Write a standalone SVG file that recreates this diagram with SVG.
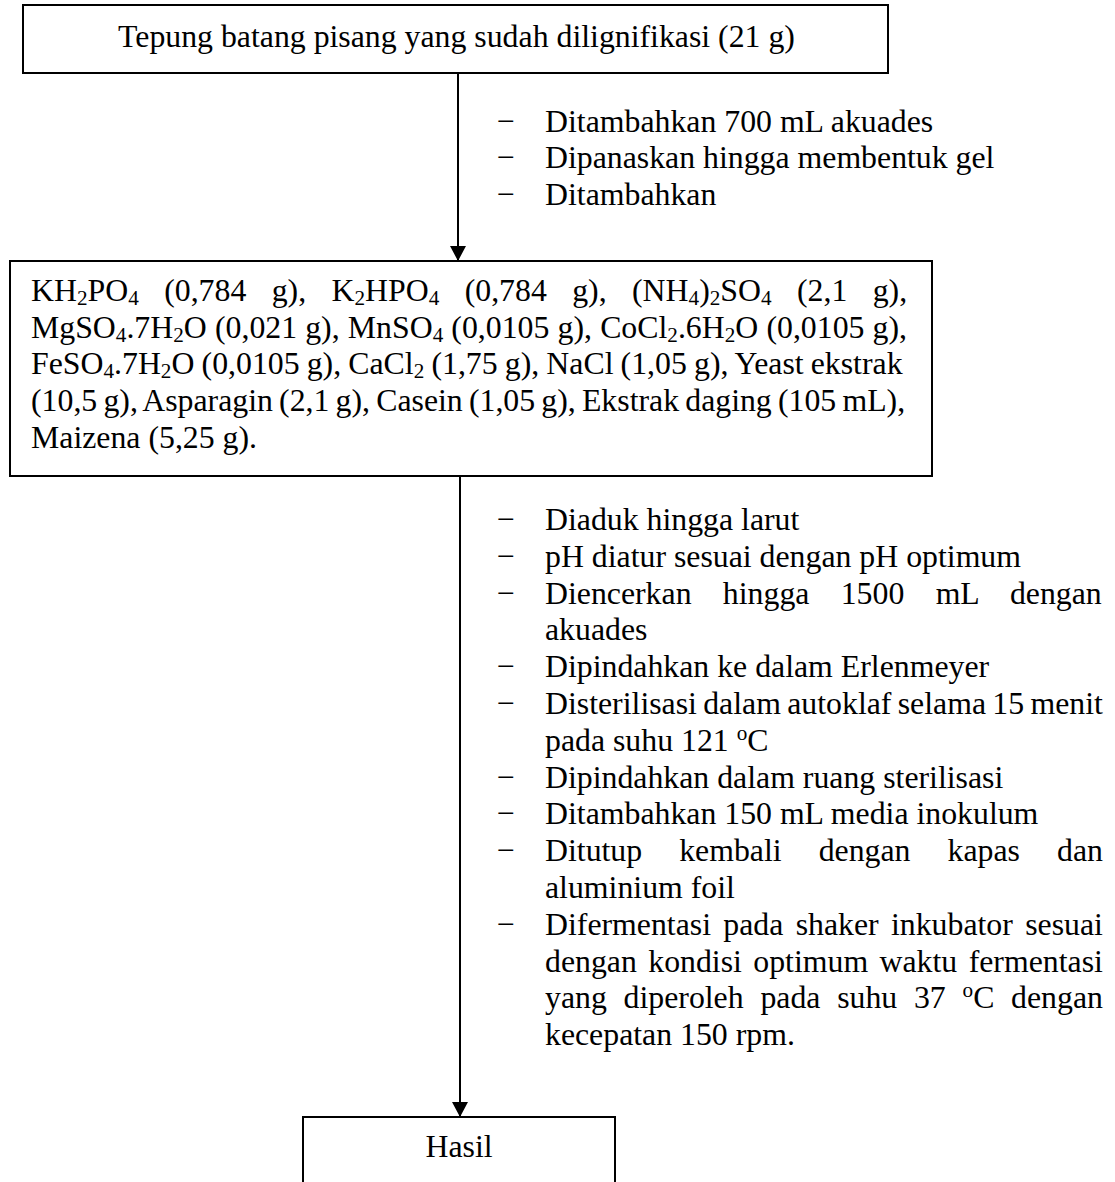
<svg xmlns="http://www.w3.org/2000/svg" width="1115" height="1182" viewBox="0 0 1115 1182">
<style>
.t{font-family:"Liberation Serif","Times New Roman",serif;font-size:31.8px;fill:#000}
.s{font-size:21.2px}
.box{fill:#fff;stroke:#000;stroke-width:2}
.con{stroke:#000;stroke-width:2;fill:none}
</style>
<defs>
<marker id="ah" markerUnits="userSpaceOnUse" markerWidth="16" markerHeight="16" refX="15" refY="8" orient="auto">
<path d="M0,0 L15,8 L0,16 Z" fill="#000"/>
</marker>
</defs>
<rect width="1115" height="1182" fill="#fff"/>

<g id="connectors">
<line class="con" x1="458" y1="73" x2="458" y2="261" marker-end="url(#ah)"/>
<line class="con" x1="460" y1="476" x2="460" y2="1117" marker-end="url(#ah)"/>
</g>

<g id="connector-labels">
<g id="steps1">
<text class="t" x="497" y="131.6">−</text>
<text class="t" x="545" y="131.6">Ditambahkan 700 mL akuades</text>
<text class="t" x="497" y="168.4">−</text>
<text class="t" x="545" y="168.4">Dipanaskan hingga membentuk gel</text>
<text class="t" x="497" y="205.2">−</text>
<text class="t" x="545" y="205.2">Ditambahkan</text>
</g>
<g id="steps2">
<text class="t" x="497" y="530">−</text>
<text class="t" x="545" y="530">Diaduk hingga larut</text>
<text class="t" x="497" y="566.8">−</text>
<text class="t" x="545" y="566.8">pH diatur sesuai dengan pH optimum</text>
<text class="t" x="497" y="603.6">−</text>
<text class="t" x="545" y="603.6" word-spacing="23.37">Diencerkan hingga 1500 mL dengan</text>
<text class="t" x="545" y="640.4">akuades</text>
<text class="t" x="497" y="677.2">−</text>
<text class="t" x="545" y="677.2">Dipindahkan ke dalam Erlenmeyer</text>
<text class="t" x="497" y="714">−</text>
<text class="t" x="545" y="714" word-spacing="-1.63">Disterilisasi dalam autoklaf selama 15 menit</text>
<text class="t" x="545" y="750.8">pada suhu 121 <tspan class="s" dy="-11">o</tspan><tspan dy="11">C</tspan></text>
<text class="t" x="497" y="787.6">−</text>
<text class="t" x="545" y="787.6">Dipindahkan dalam ruang sterilisasi</text>
<text class="t" x="497" y="824.4">−</text>
<text class="t" x="545" y="824.4">Ditambahkan 150 mL media inokulum</text>
<text class="t" x="497" y="861.2">−</text>
<text class="t" x="545" y="861.2" word-spacing="29.1">Ditutup kembali dengan kapas dan</text>
<text class="t" x="545" y="898">aluminium foil</text>
<text class="t" x="497" y="934.8">−</text>
<text class="t" x="545" y="934.8" word-spacing="4.38">Difermentasi pada shaker inkubator sesuai</text>
<text class="t" x="545" y="971.6" word-spacing="3.47">dengan kondisi optimum waktu fermentasi</text>
<text class="t" x="545" y="1008.4" word-spacing="8.8">yang diperoleh pada suhu 37 <tspan class="s" dy="-11">o</tspan><tspan dy="11">C dengan</tspan></text>
<text class="t" x="545" y="1045.2">kecepatan 150 rpm.</text>
</g>
</g>

<g id="node-tepung">
<rect class="box" x="23" y="5" width="865" height="68"/>
<text class="t" x="456.5" y="46.7" text-anchor="middle">Tepung batang pisang yang sudah dilignifikasi (21 g)</text>
</g>

<g id="node-media">
<rect class="box" x="10" y="261" width="922" height="215"/>
<text class="t" x="31" y="300.7" word-spacing="17.44">KH<tspan class="s" dy="4">2</tspan><tspan dy="-4">PO</tspan><tspan class="s" dy="4">4</tspan><tspan dy="-4"> (0,784 g), K</tspan><tspan class="s" dy="4">2</tspan><tspan dy="-4">HPO</tspan><tspan class="s" dy="4">4</tspan><tspan dy="-4"> (0,784 g), (NH</tspan><tspan class="s" dy="4">4</tspan><tspan dy="-4">)</tspan><tspan class="s" dy="4">2</tspan><tspan dy="-4">SO</tspan><tspan class="s" dy="4">4</tspan><tspan dy="-4"> (2,1 g),</tspan></text>
<text class="t" x="31" y="337.5" word-spacing="0.2">MgSO<tspan class="s" dy="4">4</tspan><tspan dy="-4">.7H</tspan><tspan class="s" dy="4">2</tspan><tspan dy="-4">O (0,021 g), MnSO</tspan><tspan class="s" dy="4">4</tspan><tspan dy="-4"> (0,0105 g), CoCl</tspan><tspan class="s" dy="4">2</tspan><tspan dy="-4">.6H</tspan><tspan class="s" dy="4">2</tspan><tspan dy="-4">O (0,0105 g),</tspan></text>
<text class="t" x="31" y="374.3" word-spacing="-0.81">FeSO<tspan class="s" dy="4">4</tspan><tspan dy="-4">.7H</tspan><tspan class="s" dy="4">2</tspan><tspan dy="-4">O (0,0105 g), CaCl</tspan><tspan class="s" dy="4">2</tspan><tspan dy="-4"> (1,75 g), NaCl (1,05 g), Yeast ekstrak</tspan></text>
<text class="t" x="31" y="411.1" word-spacing="-1.78">(10,5 g), Asparagin (2,1 g), Casein (1,05 g), Ekstrak daging (105 mL),</text>
<text class="t" x="31" y="447.9">Maizena (5,25 g).</text>
</g>

<g id="node-hasil">
<rect class="box" x="303" y="1117" width="312" height="80"/>
<text class="t" x="459" y="1157" text-anchor="middle">Hasil</text>
</g>
</svg>
